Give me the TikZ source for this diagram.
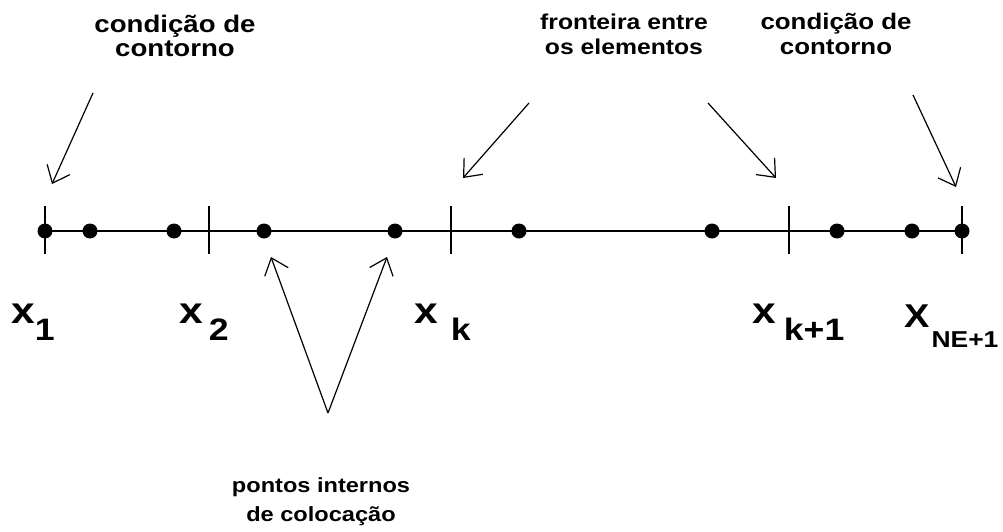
\documentclass[tikz,border=0pt]{standalone}
\usepackage{fontspec}
\setmainfont{Liberation Sans}[FakeStretch=1.15]
\usetikzlibrary{arrows.meta}
\newcommand{\fs}[2]{\fontsize{#1}{#2}\selectfont\bfseries}
\begin{document}
\begin{tikzpicture}[x=1pt,y=-1pt,
  dotn/.style={circle,fill=black,inner sep=0pt,minimum size=15pt},
  tickln/.style={line width=1.3pt},
  mainln/.style={line width=1.6pt},
  pointer/.style={line width=1.2pt,-{Straight Barb[length=15pt,width=25pt,line width=1.2pt]}},
  lbl/.style={inner sep=0pt,align=center},
  xlbl/.style={inner sep=0pt,anchor=base west}]
\useasboundingbox (0,0) rectangle (1003,532);
% main line
\coordinate (L) at (45,231);
\coordinate (R) at (962,231);
\draw[mainln] (L) -- (R);
% ticks
\foreach \n/\x in {t1/45,t2/209,tk/451,tk1/789,tn/962}{
  \coordinate (\n a) at (\x,206);
  \coordinate (\n b) at (\x,254);
  \draw[tickln] (\n a) -- (\n b);
}
% dots
\foreach \n/\x in {d1/45,d2/90,d3/174,d4/264,d5/395,d6/519,d7/712,d8/837,d9/912,d10/962}{
  \node[dotn] (\n) at (\x,231) {};
}
% top labels (base anchor = baseline of last line)
\node[lbl,anchor=base,font=\fs{24}{24.5}] (c1) at (175,57) {condição de\\contorno};
\node[lbl,anchor=base,font=\fs{21.5}{25}] (fr) at (624,55) {fronteira entre\\os elementos};
\node[lbl,anchor=base,font=\fs{22.5}{25}] (c2) at (836,55) {condição de\\contorno};
\node[lbl,anchor=base,font=\fs{20.5}{29}] (pt) at (321,521) {pontos internos\\de colocação};
% x labels
\node[xlbl] (x1) at (11,323) {\fs{37}{37}x\kern0pt\raisebox{-17pt}{\fs{31}{31}1}};
\node[xlbl] (x2) at (179,323) {\fs{37}{37}x\kern6pt\raisebox{-17pt}{\fs{31}{31}2}};
\node[xlbl] (xk) at (414,323) {\fs{37}{37}x\kern13pt\raisebox{-17pt}{\fs{31}{31}k}};
\node[xlbl] (xk1) at (752,323) {\fs{37}{37}x\kern8pt\raisebox{-17pt}{\fs{31}{31}k+1}};
\node[xlbl] (xn) at (904,327) {\fs{33}{33}X\kern2pt\raisebox{-20pt}{\fs{23}{23}NE+1}};
% arrows
\coordinate (s1) at (93,93);   \coordinate (e1) at (52,184);
\coordinate (s2) at (529,103); \coordinate (e2) at (463,178);
\coordinate (s3) at (708,103); \coordinate (e3) at (776,178);
\coordinate (s4) at (913,95);  \coordinate (e4) at (956,187);
\coordinate (sv) at (328,413);
\coordinate (ev1) at (271,257); \coordinate (ev2) at (387,257);
\draw[pointer] (s1) -- (e1);
\draw[pointer] (s2) -- (e2);
\draw[pointer] (s3) -- (e3);
\draw[pointer] (s4) -- (e4);
\draw[pointer] (sv) -- (ev1);
\draw[pointer] (sv) -- (ev2);
\end{tikzpicture}
\end{document}
